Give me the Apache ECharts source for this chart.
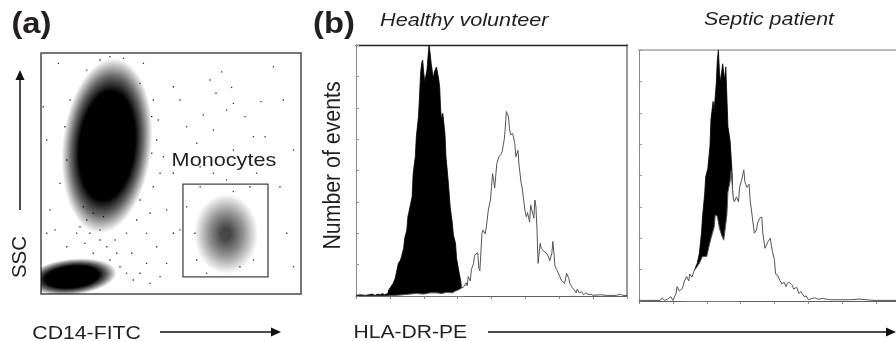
<!DOCTYPE html>
<html>
<head>
<meta charset="utf-8">
<script src="https://cdn.jsdelivr.net/npm/echarts@6.0.0/dist/echarts.min.js"></script>
<style>
  html, body { margin: 0; padding: 0; background: #fff; }
  #chart { width: 896px; height: 341px; }
</style>
</head>
<body>
<div id="chart"></div>
<script>
// ---- (a) CD14 vs SSC dot plot -------------------------------------------
// Cell populations: centre, outer spread (x, y), tilt in degrees,
// peak density and fraction of the spread that is saturated.
const popNames   = ['Granulocytes', 'Lymphocytes', 'Monocytes'];
const popCenterX = [254, 119, 712];
const popCenterY = [615, 71, 249];
const popSpreadX = [172, 173, 123];
const popSpreadY = [365, 75, 166];
const popTilt    = [-6, 6, 0];
const popPeak    = [1, 1, 0.72];
const popCore    = [0.62, 0.6, 0.15];

// Isolated events outside the dense clusters (CD14, SSC)
const strayEvents = [
  [650,888],[695,922],[733,857],[673,833],[740,791],[846,798],[785,736],[624,743],
  [714,763],[817,653],[862,653],[560,694],[663,680],[451,722],[509,860],[535,805],
  [599,625],[740,597],[445,639],[471,570],[509,501],[612,445],[714,473],[740,425],
  [804,445],[22,639],[35,349],[54,266],[22,252],[9,777],[67,957],[426,736],
  [426,584],[458,501],[381,390],[419,335],[483,349],[509,252],[445,196],[406,127],
  [483,127],[535,266],[329,252],[368,307],[349,169],[406,252],[285,224],[227,266],
  [176,307],[240,321],[137,252],[169,210],[201,169],[265,141],[99,196],[612,528],
  [560,362],[592,252],[599,141],[663,501],[829,501],[637,86],[765,113],[817,141],
  [919,445],[945,252],[971,113],[932,805],[894,943],[971,597],[227,971],[265,985],
  [317,978],[176,929],[394,957],[381,874],[432,805],[112,805],[92,694],[99,556],
  [432,445],[73,459],[163,362],[201,335],[150,279],[227,224],[188,252],[253,196],
  [291,169],[304,113],[329,86],[355,58],[381,86],[419,44],[458,72]
];

// Monocyte gate (CD14 range, SSC range)
const gateCD14 = [546, 873];
const gateSSC  = [71, 456];

// ---- (b) HLA-DR histograms: [channel, events] ----------------------------
const healthyIsotype = [[0,1],[4,2],[9,1],[12,2],[15,3],[18,1],[21,3],[23,2],[25,4],[27,2],[30,4],[31,10],[35,20],[37,28],[40,52],[42,57],[43,63],[45,76],[46,92],[48,105],[49,126],[51,142],[53,158],[54,195],[56,222],[57,254],[59,286],[60,318],[61,355],[62,371],[63,376],[64,355],[65,342],[67,360],[68,381],[69,400],[70,387],[71,371],[73,347],[74,357],[76,365],[77,365],[78,347],[79,334],[80,296],[81,280],[82,291],[84,259],[85,222],[87,185],[89,142],[91,116],[92,97],[94,84],[95,60],[97,41],[99,23],[100,7],[101,1],[105,0],[256,0]];

const healthyHLADR = [[0,0],[29,0],[38,1],[45,2],[51,3],[57,4],[64,3],[70,5],[76,5],[81,4],[86,6],[91,5],[94,8],[97,10],[99,12],[100,10],[102,15],[104,21],[105,16],[106,31],[108,24],[109,42],[111,52],[112,65],[113,62],[115,69],[116,44],[117,40],[119,100],[120,105],[122,99],[123,108],[125,137],[127,153],[128,174],[129,195],[130,185],[131,172],[133,211],[135,222],[137,226],[138,230],[140,249],[141,267],[142,294],[144,286],[145,267],[146,257],[148,259],[150,243],[151,222],[153,232],[154,209],[156,180],[157,172],[158,158],[160,132],[161,126],[162,133],[164,118],[165,145],[166,145],[168,124],[169,153],[170,142],[171,105],[172,52],[174,84],[175,76],[177,72],[180,68],[182,62],[183,56],[185,68],[186,87],[188,47],[190,41],[192,33],[194,25],[197,20],[199,36],[201,28],[202,20],[204,14],[206,10],[208,5],[209,11],[211,5],[213,7],[215,2],[217,5],[220,2],[222,3],[224,1],[231,2],[237,1],[246,1],[250,3],[252,1],[256,1]];

const septicIsotype = [[0,0],[42,0],[46,7],[50,28],[53,52],[55,60],[57,76],[59,108],[60,134],[62,170],[63,198],[65,211],[67,246],[68,290],[70,318],[71,304],[73,347],[74,384],[75,400],[76,365],[77,350],[79,378],[80,379],[81,352],[82,373],[83,326],[84,278],[86,256],[87,230],[88,203],[89,134],[91,55],[94,0],[256,0]];

const septicHLADR = [[0,1],[13,1],[20,1],[22,5],[24,1],[27,3],[30,7],[32,1],[35,12],[36,23],[38,16],[41,20],[43,32],[45,39],[47,32],[48,43],[50,38],[52,48],[55,55],[57,60],[60,71],[64,71],[66,86],[68,100],[71,118],[72,137],[74,135],[76,116],[78,105],[80,97],[81,110],[83,137],[84,174],[86,190],[87,208],[89,164],[90,158],[92,166],[94,158],[95,181],[97,193],[99,209],[100,190],[102,181],[104,186],[105,161],[107,134],[109,108],[111,113],[112,124],[114,132],[116,134],[117,108],[119,84],[120,84],[122,95],[124,100],[126,79],[128,65],[129,43],[131,41],[133,33],[135,27],[137,30],[139,23],[140,28],[142,30],[145,25],[146,19],[149,22],[151,12],[153,15],[156,7],[158,8],[160,2],[163,4],[166,5],[169,3],[174,4],[180,2],[190,2],[199,2],[208,3],[221,1],[242,1],[256,1]];

// ---------------------------------------------------------------------------
const FONT = '"Liberation Sans", Arial, Helvetica, sans-serif';
const INK = '#231f20';

const populations = popNames.map((n, i) => ({
  name: n,
  value: [popCenterX[i], popCenterY[i], popSpreadX[i], popSpreadY[i], popTilt[i], popPeak[i], popCore[i]]
}));

function densityFill(peak, core) {
  const mid = core + (1 - core) * 0.45;
  return new echarts.graphic.RadialGradient(0.5, 0.5, 0.5, [
    { offset: 0, color: 'rgba(0,0,0,' + peak + ')' },
    { offset: core, color: 'rgba(0,0,0,' + peak + ')' },
    { offset: mid, color: 'rgba(0,0,0,' + (peak * 0.6) + ')' },
    { offset: 1, color: 'rgba(0,0,0,0)' }
  ]);
}

const hiddenAxis = {
  type: 'value', min: 0, max: 1000,
  axisLine: { show: false }, axisTick: { show: false },
  axisLabel: { show: false }, splitLine: { show: false }
};

function histX(grid, lineColor) {
  return {
    type: 'value', gridIndex: grid, min: 0, max: 256, interval: 32,
    axisLine: { onZero: false, lineStyle: { color: lineColor, width: 1 } },
    axisTick: { show: true, inside: false, length: 3, lineStyle: { color: '#888', width: 1 } },
    axisLabel: { show: false }, splitLine: { show: false }
  };
}
function histY(grid) {
  return {
    type: 'value', gridIndex: grid, min: 0, max: 400, interval: 50,
    axisLine: { onZero: false, lineStyle: { color: '#888', width: 1 } },
    axisTick: { show: true, inside: true, length: 3, lineStyle: { color: '#999', width: 1 } },
    axisLabel: { show: false }, splitLine: { show: false }
  };
}
function frameAxis(kind, grid, pos, color, width) {
  return {
    type: 'value', gridIndex: grid, position: pos, min: 0, max: kind === 'x' ? 256 : 400,
    axisLine: { show: true, onZero: false, lineStyle: { color: color, width: width } },
    axisTick: { show: false }, axisLabel: { show: false }, splitLine: { show: false }
  };
}

function histSeries(name, data, xi, yi, isotype) {
  return {
    name: name, type: 'line', xAxisIndex: xi, yAxisIndex: yi, data: data,
    showSymbol: false, symbol: 'none', smooth: false, z: isotype ? 2 : 3,
    lineStyle: isotype ? { color: '#000', width: 0.8 } : { color: '#555', width: 1 },
    areaStyle: { color: isotype ? '#000' : '#fff', opacity: 1 }
  };
}

function label(text, x, y, size, opts) {
  opts = opts || {};
  return {
    type: 'text', x: x, y: y, silent: true,
    rotation: opts.rotation || 0,
    scaleX: opts.scaleX || 1, scaleY: opts.scaleY || 1,
    style: {
      text: text, fill: INK, fontFamily: FONT, fontSize: size,
      fontWeight: opts.bold ? 'bold' : 'normal',
      fontStyle: opts.italic ? 'italic' : 'normal',
      align: opts.align || 'left', verticalAlign: 'middle'
    }
  };
}
function arrowLine(x1, y1, x2, y2) {
  return { type: 'line', silent: true, shape: { x1: x1, y1: y1, x2: x2, y2: y2 },
           style: { stroke: '#111', lineWidth: 1.5 } };
}
function arrowHead(points) {
  return { type: 'polygon', silent: true, shape: { points: points }, style: { fill: '#111' } };
}

const option = {
  animation: false,
  backgroundColor: '#fff',
  grid: [
    { left: 41, top: 53, width: 260, height: 241, show: true, borderColor: '#4a4a4a', borderWidth: 1.5,
      backgroundColor: 'rgba(0,0,0,0)', outerBoundsMode: 'none' },
    { left: 356, top: 45, width: 271, height: 251, outerBoundsMode: 'none' },
    { left: 639, top: 50, width: 271, height: 251, outerBoundsMode: 'none' }
  ],
  xAxis: [
    Object.assign({ gridIndex: 0 }, hiddenAxis),
    histX(1, '#777'),
    frameAxis('x', 1, 'top', '#222', 1.3),
    histX(2, '#777'),
    frameAxis('x', 2, 'top', '#bbb', 2)
  ],
  yAxis: [
    Object.assign({ gridIndex: 0 }, hiddenAxis),
    histY(1),
    frameAxis('y', 1, 'right', '#9a9a9a', 2),
    histY(2)
  ],
  series: [
    {
      name: 'Populations', type: 'custom', xAxisIndex: 0, yAxisIndex: 0, clip: true, z: 1,
      data: populations,
      renderItem: function (params, api) {
        const c = api.coord([api.value(0), api.value(1)]);
        const s = api.size([api.value(2), api.value(3)]);
        return {
          type: 'circle',
          shape: { cx: 0, cy: 0, r: 50 },
          x: c[0], y: c[1],
          scaleX: s[0] / 50, scaleY: s[1] / 50,
          rotation: api.value(4) * Math.PI / 180,
          style: { fill: densityFill(api.value(5), api.value(6)) }
        };
      }
    },
    {
      name: 'Events', type: 'scatter', xAxisIndex: 0, yAxisIndex: 0, z: 2,
      symbol: 'rect', symbolSize: 1.3, data: strayEvents,
      itemStyle: { color: '#000' },
      markArea: {
        silent: true,
        itemStyle: { color: 'rgba(0,0,0,0)', borderColor: '#444', borderWidth: 1.3 },
        data: [[{ coord: [gateCD14[0], gateSSC[1]] }, { coord: [gateCD14[1], gateSSC[0]] }]]
      }
    },
    histSeries('Isotype control', healthyIsotype, 1, 1, true),
    histSeries('HLA-DR', healthyHLADR, 1, 1, false),
    histSeries('Isotype control', septicIsotype, 3, 3, true),
    histSeries('HLA-DR', septicHLADR, 3, 3, false)
  ],
  graphic: [
    label('(a)', 11.4, 24.6, 29, { bold: true, scaleX: 1.13 }),
    label('(b)', 313, 24.6, 29, { bold: true, scaleX: 1.13 }),
    label('Healthy volunteer', 380, 21.3, 18.5, { italic: true, scaleX: 1.17 }),
    label('Septic patient', 704, 19.6, 18.5, { italic: true, scaleX: 1.16 }),
    label('Monocytes', 171.6, 160.6, 18.5, { scaleX: 1.17 }),
    label('CD14-FITC', 32.3, 333.8, 18, { scaleX: 1.18 }),
    label('HLA-DR-PE', 353.5, 333.1, 18, { scaleX: 1.17 }),
    label('SSC', 20.5, 257, 20.5, { rotation: Math.PI / 2, align: 'center' }),
    label('Number of events', 333.5, 165.5, 21.3, { rotation: Math.PI / 2, align: 'center', scaleY: 1.1 }),
    arrowLine(160, 332, 272, 332),
    arrowHead([[281, 332], [271, 327.5], [271, 336.5]]),
    arrowLine(20, 210, 20, 78),
    arrowHead([[20, 70], [15.5, 80], [24.5, 80]]),
    arrowLine(488, 332, 887, 332),
    arrowHead([[896, 332], [886, 327.5], [886, 336.5]])
  ]
};

const chart = echarts.init(document.getElementById('chart'), null, { renderer: 'canvas' });
chart.setOption(option);
</script>
</body>
</html>
